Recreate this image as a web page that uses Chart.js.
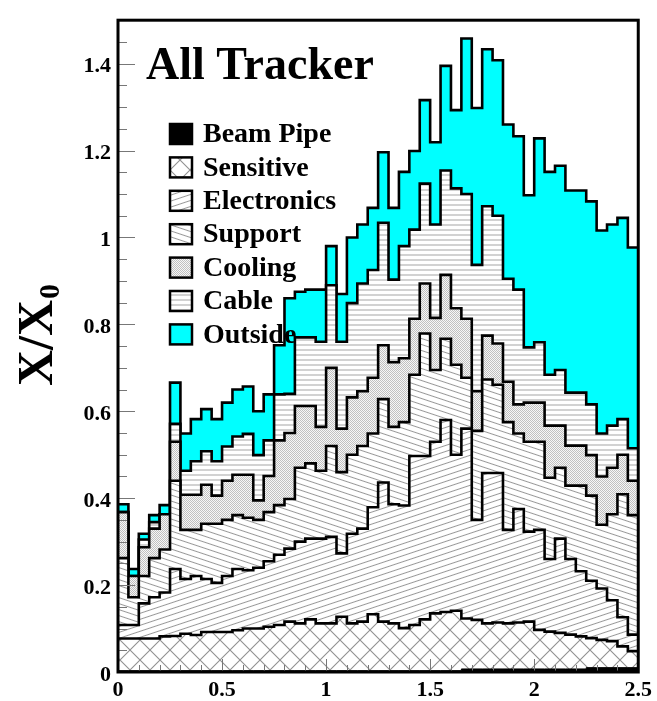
<!DOCTYPE html>
<html>
<head>
<meta charset="utf-8">
<script src="https://cdn.jsdelivr.net/npm/chart.js@4.4.1/dist/chart.umd.min.js"></script>
<style>
  html, body { margin: 0; padding: 0; background: #fff; }
  #wrap { width: 657px; height: 701px; }
</style>
</head>
<body>
<div id="wrap"><canvas id="chart" width="657" height="701"></canvas></div>
<script>
// eta bins, 0.05 wide (low edges) plus the last upper edge
const etaEdges = [0.00, 0.05, 0.10, 0.15, 0.20, 0.25, 0.30, 0.35, 0.40, 0.45,
                  0.50, 0.55, 0.60, 0.65, 0.70, 0.75, 0.80, 0.85, 0.90, 0.95,
                  1.00, 1.05, 1.10, 1.15, 1.20, 1.25, 1.30, 1.35, 1.40, 1.45,
                  1.50, 1.55, 1.60, 1.65, 1.70, 1.75, 1.80, 1.85, 1.90, 1.95,
                  2.00, 2.05, 2.10, 2.15, 2.20, 2.25, 2.30, 2.35, 2.40, 2.45, 2.50];

// stacked X/X0, each list is the running total up to and including that category
const beamPipe = [0.003, 0.003, 0.003, 0.003, 0.003, 0.003, 0.003, 0.003, 0.003, 0.003,
                  0.003, 0.003, 0.003, 0.003, 0.003, 0.003, 0.003, 0.003, 0.003, 0.003,
                  0.003, 0.003, 0.003, 0.003, 0.003, 0.003, 0.003, 0.003, 0.003, 0.003,
                  0.003, 0.003, 0.003, 0.007, 0.007, 0.007, 0.007, 0.007, 0.007, 0.007,
                  0.007, 0.007, 0.007, 0.007, 0.007, 0.010, 0.010, 0.010, 0.010, 0.010];
const sensitive = [0.077, 0.077, 0.077, 0.077, 0.082, 0.083, 0.088, 0.085, 0.092, 0.092,
                   0.092, 0.096, 0.100, 0.100, 0.104, 0.108, 0.116, 0.112, 0.121, 0.112,
                   0.112, 0.127, 0.112, 0.116, 0.133, 0.116, 0.112, 0.101, 0.108, 0.121,
                   0.135, 0.138, 0.141, 0.123, 0.120, 0.112, 0.114, 0.112, 0.114, 0.116,
                   0.097, 0.093, 0.090, 0.086, 0.082, 0.078, 0.074, 0.071, 0.059, 0.048];
const electronics = [0.108, 0.108, 0.158, 0.172, 0.183, 0.237, 0.214, 0.221, 0.214, 0.205,
                     0.221, 0.237, 0.234, 0.240, 0.255, 0.270, 0.284, 0.300, 0.307, 0.307,
                     0.311, 0.273, 0.318, 0.330, 0.379, 0.436, 0.386, 0.383, 0.497, 0.497,
                     0.530, 0.580, 0.500, 0.560, 0.350, 0.458, 0.458, 0.327, 0.375, 0.323,
                     0.327, 0.260, 0.307, 0.260, 0.232, 0.210, 0.192, 0.165, 0.126, 0.086];
const support = [0.262, 0.172, 0.221, 0.262, 0.282, 0.440, 0.327, 0.327, 0.341, 0.341,
                 0.350, 0.361, 0.355, 0.350, 0.368, 0.384, 0.398, 0.470, 0.480, 0.463,
                 0.520, 0.460, 0.500, 0.520, 0.549, 0.628, 0.564, 0.575, 0.684, 0.779,
                 0.695, 0.767, 0.707, 0.677, 0.555, 0.673, 0.661, 0.575, 0.549, 0.530,
                 0.530, 0.447, 0.470, 0.429, 0.429, 0.406, 0.339, 0.363, 0.409, 0.361];
const cooling = [0.368, 0.221, 0.287, 0.330, 0.363, 0.530, 0.408, 0.408, 0.431, 0.406,
                 0.440, 0.454, 0.454, 0.395, 0.451, 0.533, 0.550, 0.612, 0.612, 0.564,
                 0.700, 0.560, 0.632, 0.646, 0.677, 0.752, 0.713, 0.722, 0.813, 0.894,
                 0.815, 0.914, 0.837, 0.813, 0.646, 0.774, 0.756, 0.668, 0.616, 0.620,
                 0.620, 0.567, 0.567, 0.521, 0.521, 0.499, 0.450, 0.470, 0.500, 0.440];
const cable = [0.368, 0.221, 0.305, 0.345, 0.363, 0.571, 0.463, 0.485, 0.508, 0.485,
               0.519, 0.542, 0.548, 0.499, 0.533, 0.639, 0.640, 0.770, 0.770, 0.760,
               0.890, 0.760, 0.849, 0.894, 0.925, 1.034, 0.903, 0.980, 1.018, 1.124,
               1.030, 1.154, 1.113, 1.100, 0.937, 1.072, 1.050, 0.905, 0.880, 0.747,
               0.759, 0.684, 0.695, 0.643, 0.643, 0.616, 0.549, 0.567, 0.582, 0.515];
const outside = [0.386, 0.237, 0.318, 0.361, 0.384, 0.666, 0.549, 0.582, 0.605, 0.582,
                 0.620, 0.650, 0.657, 0.600, 0.639, 0.752, 0.860, 0.875, 0.880, 0.880,
                 0.980, 0.870, 1.000, 1.030, 1.068, 1.196, 1.068, 1.151, 1.199, 1.316,
                 1.219, 1.395, 1.293, 1.458, 1.298, 1.433, 1.408, 1.260, 1.233, 1.097,
                 1.228, 1.151, 1.165, 1.108, 1.108, 1.083, 1.016, 1.030, 1.045, 0.977];

const layerNames = ['Beam Pipe', 'Sensitive', 'Electronics', 'Support', 'Cooling', 'Cable', 'Outside'];
const yTickValues = [0, 0.2, 0.4, 0.6, 0.8, 1, 1.2, 1.4];
const xTickValues = [0, 0.5, 1, 1.5, 2, 2.5];

const SERIF = '"Liberation Serif", "DejaVu Serif", serif';

// small repeating tiles for the hatch fills
function makePattern(w, h, shade) {
    const c = document.createElement('canvas');
    c.width = w;
    c.height = h;
    const g = c.getContext('2d');
    const img = g.createImageData(w, h);
    for (let y = 0; y < h; y++) {
        for (let x = 0; x < w; x++) {
            const v = shade(x + 0.5, y + 0.5);
            const k = (y * w + x) * 4;
            img.data[k] = v;
            img.data[k + 1] = v;
            img.data[k + 2] = v;
            img.data[k + 3] = 255;
        }
    }
    g.putImageData(img, 0, 0);
    return g.createPattern(c, 'repeat');
}

function lineShade(d, period, dark) {
    const m = ((d % period) + period) % period;
    const dist = Math.min(m, period - m);
    return Math.round(255 - dark * Math.max(0, 1 - dist));
}

const fills = [
    '#000000',
    makePattern(20, 20, (x, y) => Math.min(lineShade((x + y) / Math.SQRT2, 20 / Math.SQRT2, 105),
                                           lineShade((x - y) / Math.SQRT2, 20 / Math.SQRT2, 105))),
    makePattern(18, 6, (x, y) => lineShade((y + x / 3) * 0.95, 6 * 0.95, 100)),
    makePattern(18, 6, (x, y) => lineShade((y - x / 3) * 0.95, 6 * 0.95, 100)),
    makePattern(2, 2, (x, y) => ((Math.floor(x) + Math.floor(y)) % 2 === 0 ? 192 : 246)),
    makePattern(1, 5, (x, y) => lineShade(y, 5, 90)),
    '#00ffff'
];

const layerTops = [beamPipe, sensitive, electronics, support, cooling, cable, outside];

// step outline: value of bin i holds from edge i to edge i+1
function stepPoints(values) {
    const pts = values.map((v, i) => ({ x: etaEdges[i], y: v }));
    pts.push({ x: etaEdges[values.length], y: values[values.length - 1] });
    return pts;
}

const datasets = layerTops.map((vals, i) => ({
    label: layerNames[i],
    data: stepPoints(vals),
    stepped: 'before',
    borderColor: '#000000',
    borderWidth: i === 0 ? 1 : 2.6,
    backgroundColor: fills[i],
    fill: i === 0 ? 'origin' : '-1',
    pointRadius: 0,
    tension: 0
}));

const plotDecor = {
    id: 'plotDecor',
    afterDraw(chart) {
        const ctx = chart.ctx;
        const area = chart.chartArea;
        const xs = chart.scales.x;
        const ys = chart.scales.y;
        ctx.save();

        // inward ticks
        ctx.strokeStyle = '#777777';
        ctx.lineWidth = 1;
        ctx.beginPath();
        for (let k = 0; k <= 30; k++) {
            const py = Math.round(ys.getPixelForValue(k * 0.05)) + 0.5;
            const len = k % 4 === 0 ? 17 : 9;
            ctx.moveTo(area.left, py);
            ctx.lineTo(area.left + len, py);
        }
        for (let k = 0; k <= 25; k++) {
            const px = Math.round(xs.getPixelForValue(k * 0.1)) + 0.5;
            const len = k % 5 === 0 ? 13 : 7;
            ctx.moveTo(px, area.bottom);
            ctx.lineTo(px, area.bottom - len);
        }
        ctx.stroke();

        // frame
        ctx.strokeStyle = '#000000';
        ctx.lineWidth = 3;
        ctx.strokeRect(area.left, area.top, area.right - area.left, area.bottom - area.top);

        // title
        ctx.fillStyle = '#000000';
        ctx.textBaseline = 'alphabetic';
        ctx.textAlign = 'left';
        ctx.font = 'bold 46px ' + SERIF;
        ctx.fillText('All Tracker', 146, 79);

        // legend
        ctx.font = 'bold 28px ' + SERIF;
        layerNames.forEach((name, i) => {
            const cy = 134 + i * 33.4;
            ctx.fillStyle = fills[i];
            ctx.fillRect(170, cy - 10, 22, 20);
            ctx.strokeStyle = '#000000';
            ctx.lineWidth = 2.5;
            ctx.strokeRect(170, cy - 10, 22, 20);
            ctx.fillStyle = '#000000';
            ctx.textBaseline = 'middle';
            ctx.fillText(name, 203, cy + 1);
        });

        // y axis title with subscript
        ctx.translate(52, 386);
        ctx.rotate(-Math.PI / 2);
        ctx.textBaseline = 'alphabetic';
        ctx.font = 'bold 50px ' + SERIF;
        ctx.fillText('X/X', 0, 0);
        const w = ctx.measureText('X/X').width;
        ctx.font = 'bold 30px ' + SERIF;
        ctx.fillText('0', w + 1, 7);
        ctx.restore();
    }
};

new Chart(document.getElementById('chart'), {
    type: 'line',
    data: { datasets },
    options: {
        responsive: false,
        animation: false,
        devicePixelRatio: 1,
        layout: { padding: { left: 0, right: 17, top: 10, bottom: 0 } },
        plugins: {
            legend: { display: false },
            tooltip: { enabled: false },
            filler: { propagate: false }
        },
        scales: {
            x: {
                type: 'linear',
                min: 0,
                max: 2.5,
                afterFit: s => { s.height = 29; },
                afterBuildTicks: s => { s.ticks = xTickValues.map(v => ({ value: v })); },
                grid: { display: false, drawTicks: false },
                border: { display: false },
                ticks: {
                    padding: 5,
                    color: '#000000',
                    font: { family: SERIF, size: 22, weight: 'bold' },
                    callback: v => String(Math.round(v * 10) / 10)
                }
            },
            y: {
                type: 'linear',
                min: 0,
                max: 1.5,
                afterFit: s => { s.width = 118; },
                afterBuildTicks: s => { s.ticks = yTickValues.map(v => ({ value: v })); },
                grid: { display: false, drawTicks: false },
                border: { display: false },
                ticks: {
                    padding: 7,
                    labelOffset: 3,
                    color: '#000000',
                    font: { family: SERIF, size: 22, weight: 'bold' },
                    callback: v => String(Math.round(v * 10) / 10)
                }
            }
        }
    },
    plugins: [plotDecor]
});
</script>
</body>
</html>
